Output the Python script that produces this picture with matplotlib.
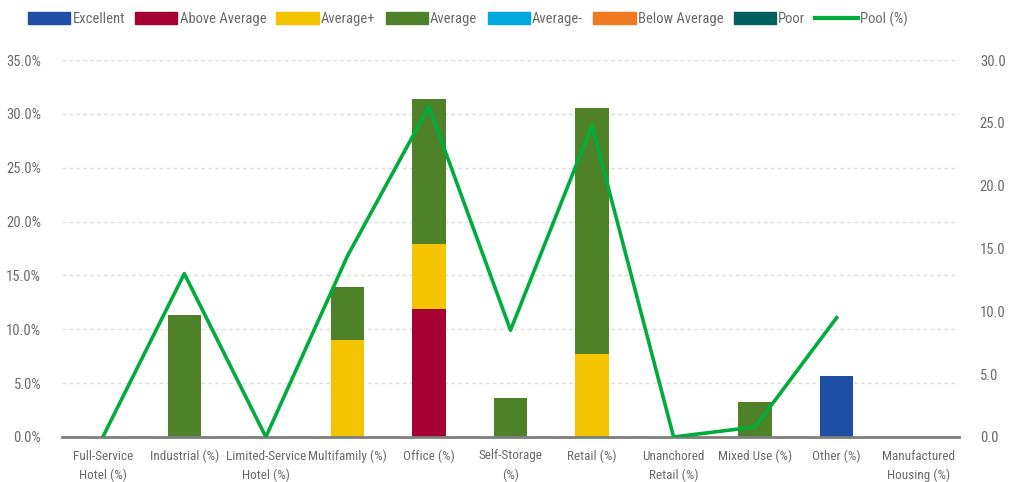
import matplotlib
matplotlib.use("Agg")
import matplotlib.pyplot as plt
import numpy as np
from matplotlib.lines import Line2D
from matplotlib.patches import Patch
from matplotlib import font_manager

names = {f.name for f in font_manager.fontManager.ttflist}
fam = ['DejaVu Sans']
for cand in ['Liberation Sans Narrow', 'Roboto Condensed', 'Open Sans Condensed', 'DejaVu Sans Condensed']:
    if cand in names:
        fam = [cand, 'DejaVu Sans']
        break
plt.rcParams['font.family'] = fam
plt.rcParams['font.stretch'] = 'condensed'

categories = ["Full-Service\nHotel (%)", "Industrial (%)", "Limited-Service\nHotel (%)",
              "Multifamily (%)", "Office (%)", "Self-Storage\n(%)", "Retail (%)",
              "Unanchored\nRetail (%)", "Mixed Use (%)", "Other (%)", "Manufactured\nHousing (%)"]
series_names = ["Excellent", "Above Average", "Average+", "Average", "Average-", "Below Average", "Poor"]
excellent     = [0, 0, 0, 0, 0, 0, 0, 0, 0, 5.7, 0]
above_average = [0, 0, 0, 0, 11.9, 0, 0, 0, 0, 0, 0]
average_plus  = [0, 0, 0, 9.0, 6.0, 0, 7.7, 0, 0, 0, 0]
average       = [0, 11.3, 0, 4.9, 13.5, 3.6, 22.8, 0, 3.25, 0, 0]
average_minus = [0] * 11
below_average = [0] * 11
poor          = [0] * 11
pool          = [0.0, 13.0, 0.0, 14.4, 26.3, 8.5, 24.8, 0.0, 0.8, 9.5, np.nan]
left_ticks = [0, 5, 10, 15, 20, 25, 30, 35]
right_ticks = [0, 5, 10, 15, 20, 25, 30]

colors = ["#1f4fa3", "#a50034", "#f5c400", "#4f8128", "#00a9e0", "#f07a22", "#006060"]
line_color = "#00ad3c"
text_color = "#6b6b6b"

fig = plt.figure(figsize=(10.17, 4.82), dpi=100)
ax = fig.add_axes([62/1017, 1-437/482, 897/1017, 377/482])
ax2 = ax.twinx()

x = np.arange(len(categories))
bottom = np.zeros(len(categories))
for name, vals, c in zip(series_names,
                         [excellent, above_average, average_plus, average, average_minus, below_average, poor],
                         colors):
    v = np.array(vals, dtype=float)
    ax.bar(x, v, width=0.41, bottom=bottom, color=c, zorder=2)
    bottom += v

ax2.plot(x, pool, color=line_color, lw=2.6, zorder=3)

ax.set_xlim(-0.5, len(categories) - 0.5)
ax.set_ylim(0, 35)
ax.set_yticks(left_ticks)
ax.set_yticklabels([f"{t:.1f}%" for t in left_ticks])
ax2.set_ylim(0, 30)
ax2.set_yticks(right_ticks)
ax2.set_yticklabels([f"{t:.1f}" for t in right_ticks])

ax.set_xticks(x)
ax.set_xticklabels(categories, color=text_color, linespacing=1.6)
ax.yaxis.grid(True, linestyle=(0, (2.5, 2.5)), color="#dcdcdc", lw=1, zorder=0)
ax.set_axisbelow(True)
ax2.set_zorder(ax.get_zorder() + 1)
ax.patch.set_visible(False)

for a in (ax, ax2):
    for s in ["top", "left", "right"]:
        a.spines[s].set_visible(False)
    a.spines["bottom"].set_color("#7f7f7f")
    a.spines["bottom"].set_linewidth(2)
    a.tick_params(axis="both", length=0, labelsize=10.5, labelcolor=text_color)
ax.tick_params(axis="x", pad=9, labelsize=9.5)
ax.tick_params(axis="y", pad=15)
ax2.tick_params(axis="y", pad=15)
ax2.spines["bottom"].set_visible(False)

handles = [Patch(color=c) for c in colors] + [Line2D([0], [0], color=line_color, lw=3)]
labels = series_names + ["Pool (%)"]
fig.legend(handles, labels, loc="center", bbox_to_anchor=(0.46, 1-19/482), ncol=8,
           frameon=False, fontsize=10.5, labelcolor=text_color, handlelength=2.9, handleheight=0.85,
           handletextpad=0.15, columnspacing=0.7)

fig.savefig("out.png", dpi=100)
